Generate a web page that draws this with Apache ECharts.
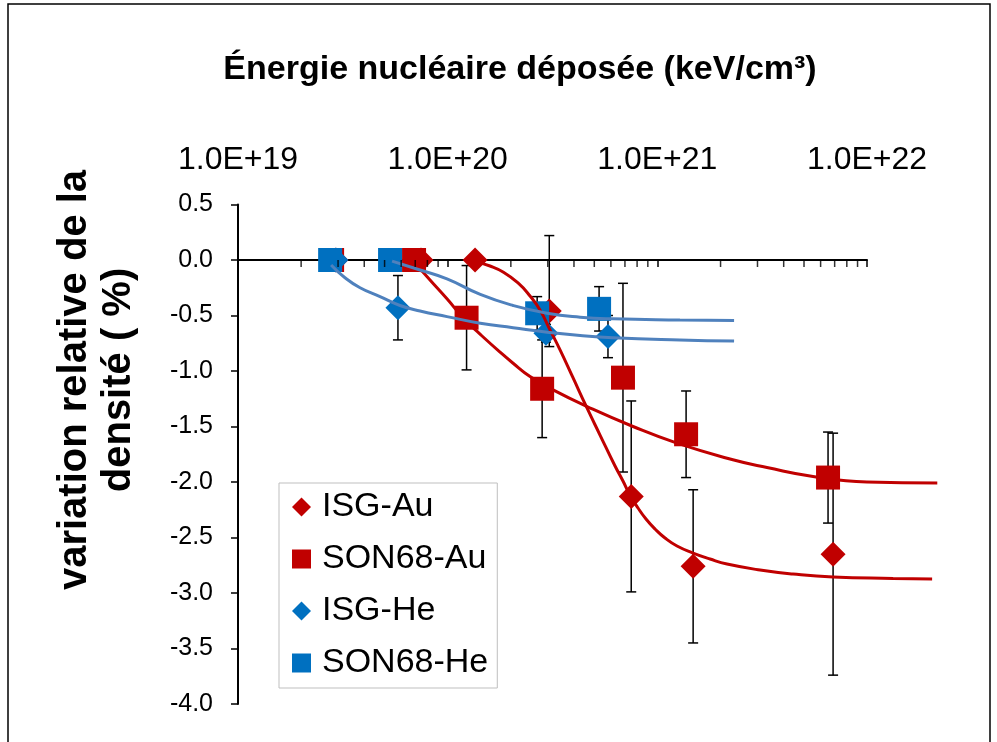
<!DOCTYPE html>
<html><head><meta charset="utf-8">
<script src="https://cdn.jsdelivr.net/npm/echarts@6/dist/echarts.min.js"></script>
<style>html,body{margin:0;padding:0;background:#fff}#c{width:997px;height:742px}</style>
</head><body><div id="c"></div>
<script>
// ---------- data ----------
const seriesNames = ['ISG-Au', 'SON68-Au', 'ISG-He', 'SON68-He'];

const isgAuX = [2.93e19, 7.46e19, 1.35e20, 3.05e20, 7.5e20, 1.48e21, 6.88e21];
const isgAuY = [0, 0, 0, -0.46, -2.13, -2.76, -2.65];
const isgAuErrPlus = [0, 0, 0, 0.68, 0.86, 0.69, 1.09];
const isgAuErrMinus = [0, 0, 0, 0.32, 0.86, 0.69, 1.09];

const son68AuX = [2.81e19, 6.91e19, 1.23e20, 2.82e20, 6.85e20, 1.37e21, 6.51e21];
const son68AuY = [0, 0, -0.52, -1.16, -1.06, -1.57, -1.96];
const son68AuErr = [0, 0, 0.47, 0.44, 0.85, 0.39, 0.41];

const isgHeX = [2.93e19, 5.79e19, 2.94e20, 5.81e20];
const isgHeY = [0, -0.43, -0.66, -0.69];
const isgHeErr = [0, 0.29, 0.08, 0.19];

const son68HeX = [2.75e19, 5.31e19, 2.67e20, 5.27e20];
const son68HeY = [0, 0, -0.48, -0.44];
const son68HeErr = [0, 0, 0.15, 0.2];

// fitted trend curves
const isgAuCurveX = [1.379e20, 1.591e20, 1.836e20, 2.164e20, 2.469e20, 2.755e20, 3.075e20, 3.433e20, 3.962e20, 4.566e20, 5.324e20, 6.279e20, 6.85e20, 7.396e20, 8.08e20, 8.82e20, 9.74e20, 1.087e21, 1.24e21, 1.479e21, 1.782e21, 2.147e21, 3.085e21, 4.433e21, 6.876e21, 1.33e22, 2.041e22];
const isgAuCurveY = [-0.02, -0.054, -0.108, -0.207, -0.324, -0.45, -0.63, -0.81, -1.063, -1.315, -1.577, -1.856, -1.991, -2.117, -2.234, -2.333, -2.423, -2.505, -2.577, -2.64, -2.694, -2.739, -2.793, -2.829, -2.856, -2.869, -2.874];

const son68AuCurveX = [6.985e19, 8.234e19, 9.92e19, 1.209e20, 1.43e20, 1.776e20, 2.05e20, 2.469e20, 3.18e20, 4.62e20, 7.648e20, 1.24e21, 2.29e21, 3.33e21, 5.52e21, 9.98e21, 2.16e22];
const son68AuCurveY = [-0.027, -0.18, -0.35, -0.54, -0.67, -0.83, -0.93, -1.05, -1.17, -1.32, -1.5, -1.65, -1.8, -1.87, -1.95, -2.0, -2.01];

const isgHeCurveX = [2.78e19, 3.237e19, 3.82e19, 4.755e19, 5.924e19, 7.38e19, 9.92e19, 1.43e20, 2.05e20, 2.98e20, 4.28e20, 6.14e20, 1.28e21, 2.32e21];
const isgHeCurveY = [-0.045, -0.16, -0.25, -0.33, -0.41, -0.46, -0.51, -0.57, -0.61, -0.65, -0.68, -0.70, -0.72, -0.73];

const son68HeCurveX = [5.43e19, 7.38e19, 9.92e19, 1.43e20, 2.05e20, 2.98e20, 4.28e20, 6.14e20, 1.28e21, 2.32e21];
const son68HeCurveY = [-0.01, -0.09, -0.17, -0.31, -0.41, -0.48, -0.515, -0.53, -0.54, -0.545];

// axis ticks
const xMajorTickLabels = ['1.0E+19', '1.0E+20', '1.0E+21', '1.0E+22'];
const xMinorTicks = [2e19, 3e19, 4e19, 5e19, 6e19, 7e19, 8e19, 9e19,
                     2e20, 3e20, 4e20, 5e20, 6e20, 7e20, 8e20, 9e20,
                     2e21, 3e21, 4e21, 5e21, 6e21, 7e21, 8e21, 9e21];

// ---------- chart ----------
const FONT = '"Liberation Sans", Arial, Helvetica, sans-serif';
const RED = '#C00000', BLUE = '#0070C0', CURVE_BLUE = '#4F81BD';

const pairs = (xs, ys) => xs.map((x, i) => [x, ys[i]]);
const errRows = (xs, ys, up, dn) => xs.map((x, i) => [x, ys[i], up[i], dn[i]]);

function renderErr(params, api) {
  const x = api.value(0), y = api.value(1), up = api.value(2), dn = api.value(3);
  if (!up && !dn) return null;
  const t = api.coord([x, y + up]);
  const b = api.coord([x, y - dn]);
  const cap = 5;
  const st = { stroke: '#000', lineWidth: 1.5 };
  return {
    type: 'group',
    children: [
      { type: 'line', shape: { x1: t[0], y1: t[1], x2: b[0], y2: b[1] }, style: st },
      { type: 'line', shape: { x1: t[0] - cap, y1: t[1], x2: t[0] + cap, y2: t[1] }, style: st },
      { type: 'line', shape: { x1: b[0] - cap, y1: b[1], x2: b[0] + cap, y2: b[1] }, style: st }
    ]
  };
}

function errSeries(name, data) {
  return {
    name: name + ' err', type: 'custom', xAxisIndex: 0, yAxisIndex: 0,
    renderItem: renderErr, data: data, encode: { x: 0, y: 1 }, z: 1, clip: false, silent: true
  };
}
function ptSeries(name, data, symbol, size, color) {
  return {
    name: name, type: 'scatter', xAxisIndex: 0, yAxisIndex: 0, data: data,
    symbol: symbol, symbolSize: size, itemStyle: { color: color, opacity: 1 }, z: 2, silent: true
  };
}
function curveSeries(name, data, color) {
  return {
    name: name + ' fit', type: 'line', xAxisIndex: 0, yAxisIndex: 0, data: data,
    showSymbol: false, symbol: 'none', smooth: true, lineStyle: { color: color, width: 3 }, z: 3, silent: true
  };
}

const option = {
  animation: false,
  backgroundColor: '#fff',
  grid: [
    { left: 238, top: 204.5, right: 25, bottom: 38, containLabel: false, outerBoundsMode: 'none' },
    { left: 238, top: 260, width: 629, height: 1, containLabel: false, outerBoundsMode: 'none' }
  ],
  xAxis: [
    { type: 'log', logBase: 10, gridIndex: 0, min: 1e19, max: Math.pow(10, 22.5), show: false },
    {
      type: 'log', logBase: 10, gridIndex: 1, min: 1e19, max: 1e22, position: 'top',
      axisLine: { show: true, onZero: false, lineStyle: { color: '#000', width: 2 } },
      axisTick: { show: true, inside: true, length: 7, lineStyle: { color: '#000', width: 1.5 } },
      splitLine: { show: false },
      axisLabel: {
        show: true, margin: 84, color: '#000', fontFamily: FONT, fontSize: 32,
        formatter: v => xMajorTickLabels[Math.round(Math.log10(v)) - 19] || ''
      }
    }
  ],
  yAxis: [
    {
      type: 'value', gridIndex: 0, min: -4, max: 0.5, interval: 0.5,
      axisLine: { show: true, lineStyle: { color: '#000', width: 2 } },
      axisTick: { show: true, inside: false, length: 7, lineStyle: { color: '#000', width: 1.5 } },
      splitLine: { show: false },
      axisLabel: { margin: 25, color: '#000', fontFamily: FONT, fontSize: 25, formatter: v => v.toFixed(1) }
    },
    { type: 'value', gridIndex: 1, min: 0, max: 1, show: false }
  ],
  legend: {
    orient: 'vertical', left: 279, top: 483,
    padding: [7, 9, 8, 13], itemGap: 18, itemWidth: 19, itemHeight: 19,
    borderColor: '#BFBFBF', borderWidth: 1, backgroundColor: '#fff',
    selectedMode: false,
    textStyle: { color: '#000', fontFamily: FONT, fontSize: 34, padding: [0, 0, 0, 6] },
    data: [
      { name: seriesNames[0], icon: 'diamond' },
      { name: seriesNames[1], icon: 'rect' },
      { name: seriesNames[2], icon: 'diamond' },
      { name: seriesNames[3], icon: 'rect' }
    ]
  },
  graphic: [
    { type: 'rect', shape: { x: 8, y: 4, width: 982, height: 760 }, style: { fill: 'none', stroke: '#000', lineWidth: 1.5 }, silent: true },
    {
      type: 'text', x: 520, y: 70, silent: true,
      style: { text: 'Énergie nucléaire déposée (keV/cm³)', font: 'bold 34px ' + FONT, fill: '#000',
        align: 'center', verticalAlign: 'middle', textAlign: 'center', textVerticalAlign: 'middle' }
    },
    {
      type: 'text', x: 97, y: 380, rotation: Math.PI / 2, silent: true,
      style: { text: 'variation relative de la\ndensité ( %)', font: 'bold 40px ' + FONT, fill: '#000',
        lineHeight: 44, align: 'center', verticalAlign: 'middle', textAlign: 'center', textVerticalAlign: 'middle' }
    }
  ],
  series: [
    errSeries('ISG-Au', errRows(isgAuX, isgAuY, isgAuErrPlus, isgAuErrMinus)),
    errSeries('SON68-Au', errRows(son68AuX, son68AuY, son68AuErr, son68AuErr)),
    errSeries('ISG-He', errRows(isgHeX, isgHeY, isgHeErr, isgHeErr)),
    errSeries('SON68-He', errRows(son68HeX, son68HeY, son68HeErr, son68HeErr)),
    ptSeries(seriesNames[0], pairs(isgAuX, isgAuY), 'diamond', 25, RED),
    ptSeries(seriesNames[1], pairs(son68AuX, son68AuY), 'rect', 24, RED),
    ptSeries(seriesNames[2], pairs(isgHeX, isgHeY), 'diamond', 25, BLUE),
    ptSeries(seriesNames[3], pairs(son68HeX, son68HeY), 'rect', 24, BLUE),
    curveSeries('ISG-Au', pairs(isgAuCurveX, isgAuCurveY), RED),
    curveSeries('SON68-Au', pairs(son68AuCurveX, son68AuCurveY), RED),
    curveSeries('ISG-He', pairs(isgHeCurveX, isgHeCurveY), CURVE_BLUE),
    curveSeries('SON68-He', pairs(son68HeCurveX, son68HeCurveY), CURVE_BLUE),
    {
      name: 'x minor ticks', type: 'scatter', xAxisIndex: 0, yAxisIndex: 0,
      data: xMinorTicks.map(v => [v, 0]), symbol: 'rect', symbolSize: [1.5, 7], symbolOffset: [0, 3.5],
      itemStyle: { color: '#000' }, z: 3, silent: true
    }
  ]
};
const chart = echarts.init(document.getElementById('c'));
chart.setOption(option);
</script>
</body></html>
